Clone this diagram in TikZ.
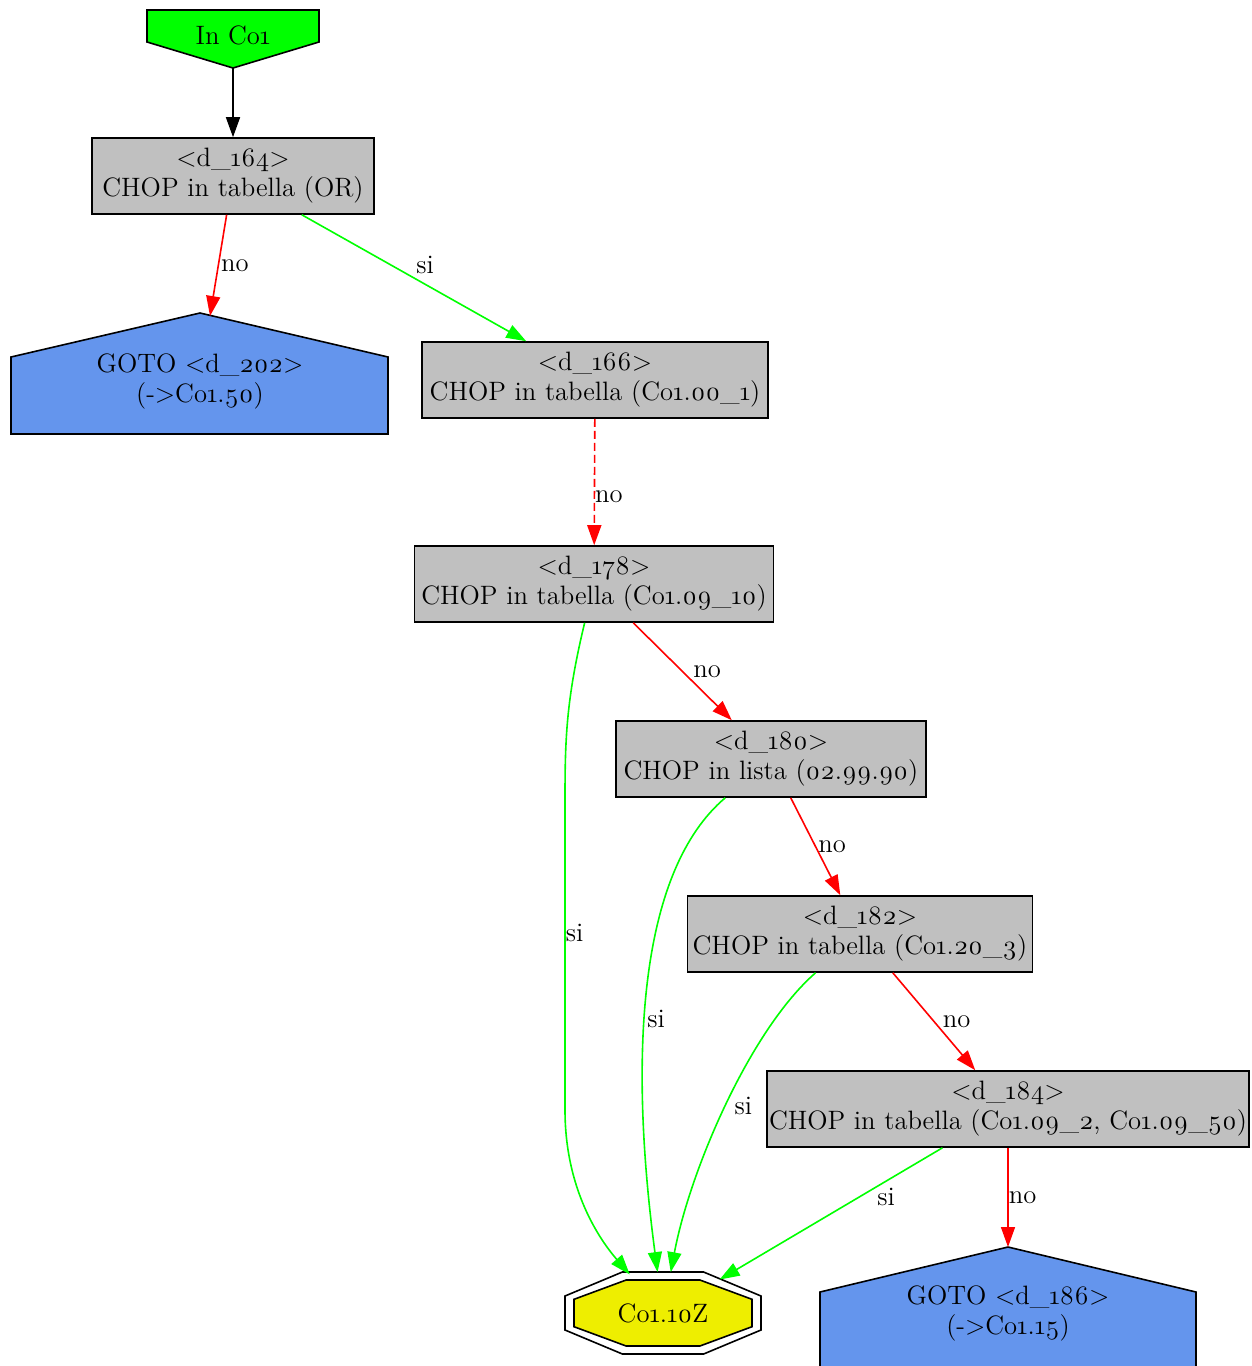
\documentclass[tikz,border=0pt]{standalone}
\usepackage{fontspec}
\setmainfont{Latin Modern Roman}[Numbers=OldStyle]
\usepackage{tikz}
\usetikzlibrary{arrows.meta}
\usetikzlibrary{calc}
\usetikzlibrary{shapes}

\definecolor{boxgray}{RGB}{192,192,192}
\definecolor{gotoblue}{RGB}{100,149,237}
\definecolor{startgreen}{RGB}{0,255,0}
\definecolor{endyellow}{RGB}{238,238,0}
\definecolor{sigreen}{RGB}{0,255,0}
\definecolor{nored}{RGB}{255,0,0}

\begin{document}
\begin{tikzpicture}[x=0.5pt, y=-0.5pt, font=\fontsize{13.3}{15}\selectfont,
        >={Triangle[length=10pt,width=7pt]},
        chop_style/.style={rectangle,draw=black,fill=boxgray,line width=0.8pt,align=center,minimum height=38pt,inner xsep=1pt},
        goto_style/.style={align=center,inner sep=0pt},
        goto_shape/.style={draw=black,fill=gotoblue,line width=0.8pt},
        start_shape/.style={draw=black,fill=startgreen,line width=0.8pt},
        end_style/.style={ellipse,minimum width=98pt,minimum height=41pt,inner sep=0pt,outer sep=0pt},
        edge_start/.style={draw=black, line width=0.8pt,->},
        edge_si/.style={draw=sigreen, line width=0.8pt,->},
        edge_no/.style={draw=nored, line width=0.8pt,->},
        edge_label/.style={anchor=west,inner sep=1pt,text=black}]

        \useasboundingbox (0,0) rectangle (1252,1366);

        \coordinate (intip) at (233,68);
        \filldraw [start_shape] (intip) -- ++(86,-26) -- ++(0,-32) -- ++(-172,0) -- ++(0,32) -- cycle;
        \node (inco) at (233,35) {In Co1};

        \node [chop_style,minimum width=141pt](d164) at (233,176) {<d\_164>\\CHOP in tabella (OR)};

        \coordinate (d202top) at (200,313);
        \coordinate (d202in) at (210,316);
        \filldraw [goto_shape] (d202top) -- ++(188,44) -- ++(0,77) -- ++(-377,0) -- ++(0,-77) -- cycle;
        \node [goto_style](d202) at (200,381) {GOTO <d\_202>\\(->Co1.50)};

        \node [chop_style,minimum width=173pt](d166) at (595,380) {<d\_166>\\CHOP in tabella (Co1.00\_1)};

        \node [chop_style,minimum width=179.5pt](d178) at (594,584) {<d\_178>\\CHOP in tabella (Co1.09\_10)};

        \node [chop_style,minimum width=155pt](d180) at (771,759) {<d\_180>\\CHOP in lista (02.99.90)};

        \node [chop_style,minimum width=172.5pt](d182) at (860,934) {<d\_182>\\CHOP in tabella (Co1.20\_3)};

        \node [chop_style,minimum width=237pt](d184) at (1008,1109) {<d\_184>\\CHOP in tabella (Co1.09\_2, Co1.09\_50)};

        \coordinate (zc) at (663,1313);
        \filldraw [draw=black,fill=white,line width=0.8pt,shift={(zc)}] (-40.6,-41) -- (40.6,-41) -- (98,-17) -- (98,17) -- (40.6,41) -- (-40.6,41) -- (-98,17) -- (-98,-17) -- cycle;
        \filldraw [draw=black,fill=endyellow,line width=0.8pt,shift={(zc)}] (-36.9,-33) -- (36.9,-33) -- (89,-13.7) -- (89,13.7) -- (36.9,33) -- (-36.9,33) -- (-89,13.7) -- (-89,-13.7) -- cycle;
        \node [end_style](z) at (zc) {Co1.10Z};

        \coordinate (d186top) at (1008,1247);
        \filldraw [goto_shape] (d186top) -- ++(188,45) -- ++(0,77) -- ++(-376,0) -- ++(0,-77) -- cycle;
        \node [goto_style](d186) at (1008,1313) {GOTO <d\_186>\\(->Co1.15)};

        \draw [edge_start] (intip) -- (d164);

        \draw [edge_no] (d164) -- (d202in) node[edge_label,pos=0.5]{no};

        \draw [edge_si] (d164) -- (d166) node[edge_label,pos=0.4,xshift=11pt]{si};

        \draw [edge_no,dash pattern=on 4pt off 2pt] (d166) -- (d178) node[edge_label,pos=0.62,xshift=-1pt]{no};

        \draw [edge_no] (d178) -- (d180) node[edge_label,pos=0.5,xshift=4pt]{no};

        \draw [edge_si] (d178) .. controls (566,700) and (565,740) .. (565,800) -- (565,1110) node[edge_label,pos=0.43,xshift=-1pt]{si} .. controls (565,1190) and (600,1240) .. (z);

        \draw [edge_no] (d180) -- (d182) node[edge_label,pos=0.5]{no};

        \draw [edge_si] (d180) .. controls (640,870) and (628,1050) .. (z) node[edge_label,pos=0.58]{si};

        \draw [edge_no] (d182) -- (d184) node[edge_label,pos=0.5,xshift=3pt]{no};

        \draw [edge_si] (d182) .. controls (750,1030) and (690,1170) .. (z) node[edge_label,pos=0.5,xshift=3pt]{si};

        \draw [edge_si] (d184) -- (z) node[edge_label,pos=0.376,xshift=8pt]{si};

        \draw [edge_no] (d184) -- (d186top) node[edge_label,pos=0.5,xshift=-1pt]{no};

        \end{tikzpicture}
\end{document}
